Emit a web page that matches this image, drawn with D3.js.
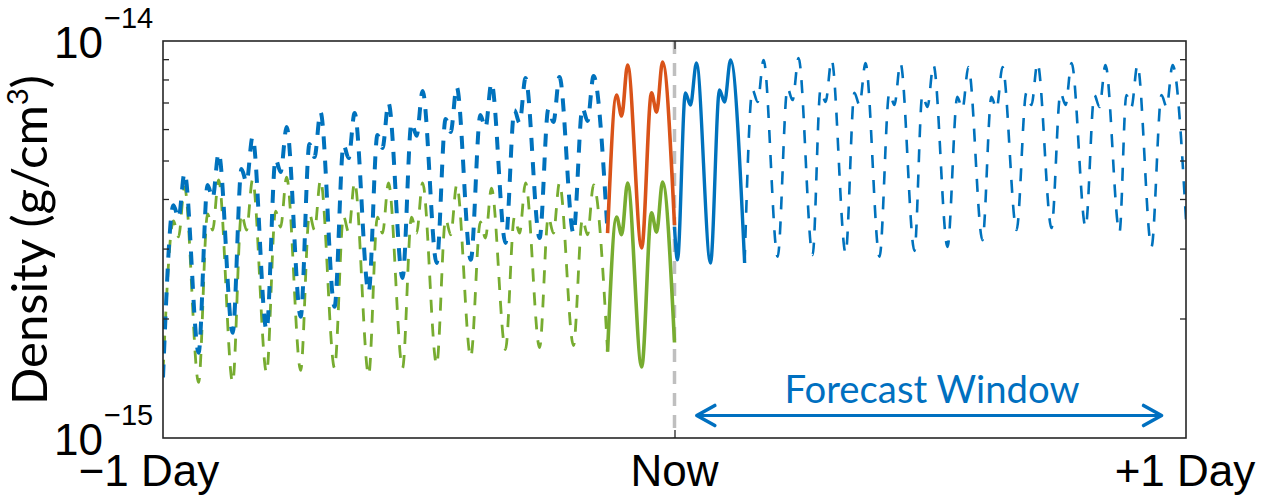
<!DOCTYPE html>
<html><head><meta charset="utf-8">
<script src="https://cdn.jsdelivr.net/npm/d3@7"></script>
<style>body{margin:0;background:#fff;overflow:hidden}</style>
</head><body>
<svg id="c" width="1263" height="498"></svg>
<script>
// ---------------- DATA (time in hours relative to now, density in units of 1e-15 g/cm^3) ----------------
const UNIT = 1e-15;
const xTicks = [-24, 0, 24];
const xTickLabels = ["\u22121 Day", "Now", "+1 Day"];
const yMajorTicks = [1e-15, 1e-14];
const yMajorExp = ["\u221215", "\u221214"];
const yMinorTicks = [2, 3, 4, 5, 6, 7, 8, 9];
const forecastWindow = [1.0, 22.9];

// Past estimate (blue dashed)
const pastPeakT   = [-22.99, -21.39, -19.80, -18.20, -16.61, -15.01, -13.42, -11.82, -10.22, -8.59, -6.99, -5.40, -3.80];
const bluePastStart = [[-24, 1.42]];
const bluePeak     = [4.65, 5.22, 5.73, 6.07, 6.62, 6.59, 6.98, 7.48, 7.66, 7.84, 8.07, 8.12, 8.16];
const blueShoulder = [3.86, 4.34, 4.76, 5.04, 5.50, 5.47, 5.80, 6.22, 6.36, 6.51, 6.70, 6.74, 6.78];
const blueDip      = [3.58, 4.02, 4.41, 4.68, 5.10, 5.07, 5.38, 5.77, 5.90, 6.04, 6.22, 6.25, 6.29];
const blueMin      = [1.64, 1.84, 1.87, 2.02, 2.14, 2.33, 2.53, 2.76, 2.81, 3.10, 3.19, 3.28, 3.28];

// Past model (green dashed)
const greenPastStart = [[-24, 1.46]];
const greenPeak     = [4.29, 4.47, 4.47, 4.54, 4.47, 4.41, 4.39, 4.39, 4.34, 4.26, 4.39, 4.39, 4.34];
const greenShoulder = [3.52, 3.67, 3.67, 3.73, 3.67, 3.62, 3.60, 3.60, 3.56, 3.50, 3.60, 3.60, 3.56];
const greenDip      = [3.21, 3.34, 3.34, 3.40, 3.34, 3.30, 3.28, 3.28, 3.25, 3.19, 3.28, 3.28, 3.25];
const greenMin      = [1.38, 1.38, 1.46, 1.48, 1.50, 1.44, 1.50, 1.53, 1.60, 1.67, 1.69, 1.71, 1.65];

// Recent window (solid orange / solid green)
const recentPeakT = [-2.20, -0.56];
const orangeStart = [[-3.14, 3.28]];
const orangePeak = [8.70, 8.85];
const orangeShoulder = [7.31, 7.40];
const orangeDip = [6.47, 6.62];
const orangeMin = [3.01, null];
const orangeEnd = [[0, 3.44]];
const greenRecentStart = [[-3.14, 1.65]];
const greenRecentPeak = [4.39, 4.41];
const greenRecentShoulder = [3.60, 3.69];
const greenRecentDip = [3.25, 3.30];
const greenRecentMin = [1.51, null];
const greenRecentEnd = [[0, 1.74]];

// Forecast (blue solid then dashed)
const forecastPeakT = [1.03, 2.63, 4.18, 5.82, 7.37, 8.96, 10.60, 12.15, 13.79, 15.39, 17.03, 18.63, 20.22, 21.72, 23.37];
const forecastStart = [[0, 3.40], [0.14, 2.81]];
const forecastPeak     = [8.80, 8.96, 8.96, 9.06, 8.96, 8.80, 8.80, 8.70, 8.60, 8.60, 8.80, 8.80, 8.70, 8.70, 8.70];
const forecastShoulder = [7.40, 7.53, 7.53, 7.61, 7.53, 7.40, 7.40, 7.31, 7.23, 7.23, 7.40, 7.40, 7.31, 7.31, 7.31];
const forecastDip      = [6.90, 7.02, 7.02, 7.10, 7.02, 6.90, 6.90, 6.82, 6.74, 6.74, 6.90, 6.90, 6.82, 6.82, 6.82];
const forecastMin      = [2.76, 2.76, 2.86, 2.89, 2.92, 2.86, 2.96, 3.03, 3.15, 3.34, 3.38, 3.40, 3.30, 3.03, null];
const forecastEnd = [[24, 3.54]];
const forecastSolidCycles = 2;

// ---------------- LAYOUT ----------------
const M = {left: 163, right: 1186, top: 41, bottom: 438};
const C = {blue: "#0072BD", orange: "#D95319", green: "#77AC30", arrow: "#0070C0", grey: "#BFBFBF", frame: "#262626"};
// within-orbit offsets of shoulder, dip, and minimum relative to each peak (hours)
const SHOULDER_DT = -0.52, DIP_DT = -0.28, MIN_DT = 0.66;

function build(start, peakT, shoulder, dip, peak, min, end) {
  const pts = start.slice();
  peakT.forEach((p, i) => {
    pts.push([p + SHOULDER_DT, shoulder[i]]);
    pts.push([p + DIP_DT, dip[i]]);
    pts.push([p, peak[i]]);
    if (min[i] != null) pts.push([p + MIN_DT, min[i]]);
  });
  if (end) end.forEach(e => pts.push(e));
  return pts;
}

const svg = d3.select("#c");
const x = d3.scaleLinear().domain([-24, 24]).range([M.left, M.right]);
const y = d3.scaleLog().domain([1e-15, 1e-14]).range([M.bottom, M.top]);
const line = d3.line().x(d => x(d[0])).y(d => y(d[1] * UNIT)).curve(d3.curveMonotoneX);

svg.append("clipPath").attr("id", "pc").append("rect")
  .attr("x", M.left).attr("y", M.top).attr("width", M.right - M.left).attr("height", M.bottom - M.top);

// Now line
svg.append("line").attr("x1", x(0)).attr("x2", x(0)).attr("y1", M.top).attr("y2", M.bottom)
  .attr("stroke", C.grey).attr("stroke-width", 3.5).attr("stroke-dasharray", "13,9");

const g = svg.append("g").attr("clip-path", "url(#pc)");

const bluePast = build(bluePastStart, pastPeakT, blueShoulder, blueDip, bluePeak, blueMin);
const greenPast = build(greenPastStart, pastPeakT, greenShoulder, greenDip, greenPeak, greenMin);
const orange = build(orangeStart, recentPeakT, orangeShoulder, orangeDip, orangePeak, orangeMin, orangeEnd);
const greenRecent = build(greenRecentStart, recentPeakT, greenRecentShoulder, greenRecentDip, greenRecentPeak, greenRecentMin, greenRecentEnd);
const forecast = build(forecastStart, forecastPeakT, forecastShoulder, forecastDip, forecastPeak, forecastMin, forecastEnd);
const splitIdx = forecastStart.length + forecastSolidCycles * 4 - 1;
const forecastSolid = forecast.slice(0, splitIdx + 1);
const forecastDashed = forecast.slice(splitIdx);

function draw(data, color, width, dash) {
  const p = g.append("path").datum(data).attr("d", line).attr("fill", "none")
    .attr("stroke", color).attr("stroke-width", width).attr("stroke-linejoin", "round");
  if (dash) p.attr("stroke-dasharray", dash);
  return p;
}
draw(greenPast, C.green, 2.8, "13,11");
draw(bluePast, C.blue, 4, "13,11");
draw(forecastDashed, C.blue, 2.6, "13,12");
draw(forecastSolid, C.blue, 3.4);
draw(greenRecent, C.green, 3.6);
draw(orange, C.orange, 3.6);

// Frame
svg.append("rect").attr("x", M.left).attr("y", M.top).attr("width", M.right - M.left).attr("height", M.bottom - M.top)
  .attr("fill", "none").attr("stroke", C.frame).attr("stroke-width", 1.6);

// Axes ticks (inside)
const minorVals = yMinorTicks.map(v => v * UNIT);
function styleAxis(sel) {
  sel.select(".domain").remove();
  sel.selectAll("line").attr("stroke", C.frame).attr("stroke-width", 1.3);
  sel.selectAll("text").remove();
}
svg.append("g").attr("transform", `translate(${M.left},0)`)
  .call(d3.axisRight(y).tickValues(minorVals).tickSize(6).tickFormat("")).call(styleAxis);
svg.append("g").attr("transform", `translate(${M.right},0)`)
  .call(d3.axisLeft(y).tickValues(minorVals).tickSize(6).tickFormat("")).call(styleAxis);
svg.append("g").attr("transform", `translate(0,${M.top})`)
  .call(d3.axisBottom(x).tickValues([0]).tickSize(8).tickFormat("")).call(styleAxis);
svg.append("g").attr("transform", `translate(0,${M.bottom})`)
  .call(d3.axisTop(x).tickValues([0]).tickSize(8).tickFormat("")).call(styleAxis);

// X tick labels
const xLabelShift = [-14, 0, -1];
svg.selectAll("text.xt").data(xTicks).enter().append("text").attr("class", "xt")
  .attr("x", (d, i) => x(d) + xLabelShift[i]).attr("y", 486)
  .attr("text-anchor", "middle").attr("font-family", "Liberation Sans, Arial, sans-serif")
  .attr("font-size", 44).attr("fill", "#000").text((d, i) => xTickLabels[i]);

// Y tick labels (10^exp)
yMajorTicks.forEach((v, i) => {
  const yy = y(v);
  svg.append("text").attr("font-family", "Liberation Sans, Arial, sans-serif").attr("fill", "#000")
    .attr("x", 103).attr("y", yy + 17).attr("text-anchor", "end").attr("font-size", 44).text("10");
  svg.append("text").attr("font-family", "Liberation Sans, Arial, sans-serif").attr("fill", "#000")
    .attr("x", 104).attr("y", yy - 13).attr("font-size", 29).text(yMajorExp[i]);
});

// Y axis title
const yt = svg.append("text").attr("font-family", "Lato, 'Open Sans', sans-serif").attr("fill", "#000")
  .attr("transform", "translate(47,240) rotate(-90)").attr("text-anchor", "middle").attr("font-size", 100);
yt.append("tspan").text("Density (g/cm");
yt.append("tspan").attr("font-size", 60).attr("dy", -38).text("3");
yt.append("tspan").attr("dy", 38).text(")");
{
  const w = yt.node().getComputedTextLength();
  const s = 330 / w * 100;
  yt.attr("font-size", s);
  yt.selectAll("tspan").filter((d, i) => i === 1).attr("font-size", s * 0.6).attr("dy", -s * 0.38);
  yt.selectAll("tspan").filter((d, i) => i === 2).attr("dy", s * 0.38);
}

// Forecast window annotation
const ay = 415.5;
const ax0 = x(forecastWindow[0]), ax1 = x(forecastWindow[1]);
svg.append("line").attr("x1", ax0 + 2).attr("x2", ax1 - 2).attr("y1", ay).attr("y2", ay)
  .attr("stroke", C.arrow).attr("stroke-width", 3.2);
svg.append("path").attr("d", `M${ax0 + 19},${ay - 10} L${ax0 + 1},${ay} L${ax0 + 19},${ay + 10}`)
  .attr("fill", "none").attr("stroke", C.arrow).attr("stroke-width", 3.6).attr("stroke-linecap", "round").attr("stroke-linejoin", "round");
svg.append("path").attr("d", `M${ax1 - 19},${ay - 10} L${ax1 - 1},${ay} L${ax1 - 19},${ay + 10}`)
  .attr("fill", "none").attr("stroke", C.arrow).attr("stroke-width", 3.6).attr("stroke-linecap", "round").attr("stroke-linejoin", "round");
const ft = svg.append("text").attr("x", 932).attr("y", 403).attr("text-anchor", "middle")
  .attr("font-family", "Lato, 'Open Sans', sans-serif").attr("fill", C.arrow).attr("font-size", 100).text("Forecast Window");
{
  const w = ft.node().getComputedTextLength();
  ft.attr("font-size", 295 / w * 100);
}
</script>
</body></html>
